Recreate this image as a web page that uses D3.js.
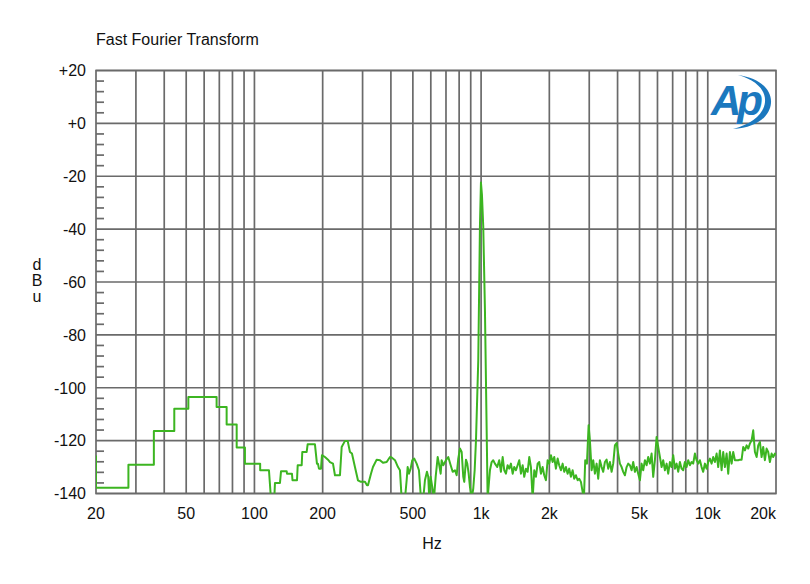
<!DOCTYPE html>
<html>
<head>
<meta charset="utf-8">
<script src="https://cdn.jsdelivr.net/npm/d3@7/dist/d3.min.js"></script>
<style>
  html, body { margin: 0; padding: 0; background: #ffffff; }
  svg { display: block; }
  text { font-family: "Liberation Sans", Arial, sans-serif; fill: #111; }
</style>
</head>
<body>
<svg id="chart" width="810" height="584"></svg>
<script>
// ---------- DATA ----------
const chartTitle = "Fast Fourier Transform";
const xLabel = "Hz";
const yLabelLetters = ["d", "B", "u"];

const xTickValues = [20, 50, 100, 200, 500, 1000, 2000, 5000, 10000, 20000];
const xTickLabels = ["20", "50", "100", "200", "500", "1k", "2k", "5k", "10k", "20k"];
const xGridValues = [30, 40, 50, 60, 70, 80, 90, 100, 200, 300, 400, 500, 600, 700, 800, 900,
                     1000, 2000, 3000, 4000, 5000, 6000, 7000, 8000, 9000, 10000];
const yTickValues = [20, 0, -20, -40, -60, -80, -100, -120, -140];
const yTickLabels = ["+20", "+0", "-20", "-40", "-60", "-80", "-100", "-120", "-140"];
const yMinorValues = [16, 12, 8, 4, -4, -8, -12, -16, -24, -28, -32, -36, -44, -48, -52, -56,
                      -64, -68, -72, -76, -84, -88, -92, -96, -104, -108, -112, -116,
                      -124, -128, -132, -136];

const traceHz = [
  20, 20, 27.8, 27.8, 36, 36, 44.3, 44.3, 51.1, 51.1, 68.1, 68.1, 75.4, 75.4, 83.5, 83.5,
  90.8, 90.8, 106, 106, 115.9, 118.3, 122.3, 123.2, 129.6, 131, 138.8, 139.2, 146.4, 147.2,
  154.1, 155.2, 161.6, 162.6, 170, 171.7, 184.9, 188.7, 190.6, 192.6, 196.6, 198.6, 204.7,
  211.1, 215.4, 222.1, 226.6, 238.4, 242.6, 250.9, 257.8, 263.9, 269.3, 277.6, 286.2, 295.1,
  307.4, 313.7, 316.9, 326.7, 333.4, 346.2, 358, 369.1, 383.2, 396.3, 403.2, 416.9, 429.8,
  438.5, 446.2, 461.4, 469.4, 474.2, 480.5, 488.9, 496.9, 507.1, 519.6, 531.9, 542.8, 555.6,
  565.3, 576.9, 584.6, 590.6, 599, 608.9, 619.5, 630.3, 643.3, 651.8, 663.1, 669.9, 680.9,
  699.9, 716.4, 734.1, 749.2, 766.9, 780.2, 793, 806.8, 820.9, 834.3, 842.8, 857.5, 868.9,
  881.3, 893.1, 908.6, 923.5, 936.7, 949.2, 971.6, 988.3, 998.4, 1008.6, 1022, 1039.8, 1068.7,
  1094, 1113, 1131, 1151, 1178, 1202, 1223, 1245, 1265, 1287, 1309, 1331, 1354, 1378, 1400,
  1425, 1449, 1473, 1499, 1525, 1550, 1577, 1604, 1631, 1659, 1688, 1716, 1745, 1776, 1805,
  1836, 1868, 1899, 1932, 1966, 1998, 2033, 2068, 2102, 2138, 2176, 2211, 2250, 2289, 2327,
  2367, 2408, 2448, 2490, 2534, 2575, 2620, 2666, 2709, 2757, 2805, 2842, 2880, 2930, 2981,
  3020, 3073, 3123, 3178, 3233, 3286, 3343, 3402, 3457, 3518, 3579, 3637, 3701, 3765, 3827,
  3894, 3961, 4026, 4096, 4168, 4236, 4310, 4385, 4457, 4534, 4613, 4689, 4771, 4854, 4933,
  5019, 5107, 5190, 5281, 5373, 5461, 5556, 5652, 5745, 5845, 5947, 6044, 6150, 6257, 6359,
  6470, 6583, 6691, 6807, 6926, 7039, 7162, 7286, 7406, 7535, 7666, 7791, 7927, 8065, 8197,
  8340, 8485, 8624, 8775, 8927, 9074, 9232, 9392, 9546, 9713, 9882, 10045, 10220, 10398,
  10568, 10752, 10940, 11119, 11313, 11510, 11699, 11903, 12110, 12309, 12523, 12742, 12950,
  13176, 13406, 13626, 13863, 14105, 14336, 14586, 14840, 15083, 15346, 15613, 15869, 16145,
  16427, 16696, 16982, 17278, 17561, 17867, 18178, 18476, 18798, 19126, 19439, 19778, 20000
];
const traceDbu = [
  -125.6, -137.8, -137.8, -129.1, -129.1, -116.4, -116.4, -107.9, -107.9, -103.5, -103.5,
  -107.3, -107.3, -113.9, -113.9, -122.6, -122.6, -128.7, -128.7, -131.2, -131.2, -142, -142,
  -136, -136, -131.6, -131.6, -132.5, -132.5, -135, -135, -129.3, -129.3, -124.3, -124.3,
  -121.4, -121.4, -128.7, -128.7, -130.6, -130.6, -125.5, -126.2, -127.2, -128.1, -128.7,
  -133.1, -133.1, -122.4, -120.1, -120.1, -124.3, -124.9, -130, -135, -135.6, -135.6, -136.9,
  -136.9, -132.5, -130, -127.2, -127.4, -128.4, -128.1, -126.2, -126.4, -127.4, -130, -131.2,
  -142, -142, -135, -130, -132.5, -130.6, -127.4, -126.8, -128.7, -131.2, -142, -142, -135,
  -131.8, -133.7, -142, -133.7, -137.5, -142, -133.7, -126.2, -128.7, -132.5, -127.4, -129.3,
  -127.4, -126.2, -129.3, -131.8, -131.2, -133.1, -126.8, -123, -124.3, -133.7, -135.6,
  -127.2, -128.7, -132.5, -137.5, -142, -138.1, -131.2, -120, -89.6, -39, -22.4, -27, -39,
  -70.6, -142,
  -131.2, -128.1, -127.4, -128.7, -130, -127.4, -131.8, -126.2, -131.2, -132.5, -129.3,
  -130.6, -128.7, -132.5, -130, -131.2, -129.3, -127.4, -132.5, -129.3, -133.7, -130.6,
  -131.8, -126.2, -130, -142, -131.2, -133.7, -128.7, -128.1, -132.5, -130, -133.1, -135,
  -127.4, -128.7, -125.5, -128.1, -126.2, -130.6, -126.8, -129.3, -131.2, -128.7, -131.8,
  -130, -132.5, -130.6, -133.7, -131.2, -134.4, -133.1, -135, -134.4, -135.6, -139.4, -142,
  -127.4, -128.7, -114.2,
  -119.9, -131.2, -127.4, -132.5, -128.7, -134.4, -127.4, -130, -131.8, -128.1, -127.2,
  -130.6, -128.1, -131.8, -128.7,
  -121.8, -120.9, -124.9, -128.7, -130, -131.8, -133.1, -130, -128.7, -129.3, -131.2,
  -128.1, -131.8, -130, -132.5,
  -135, -128.7, -131.2, -127.4, -129.3, -126.2, -128.7, -124.9, -133.7, -127.4, -118.6,
  -122.4, -126.2, -130, -127.4,
  -131.2, -128.7, -132.5, -128.1, -130, -125.5, -130.6, -128.7, -131.8, -128.1, -130.6,
  -131.2, -128.1, -130, -127.4,
  -129.3, -128.1, -128.7, -124.9, -127.4, -128.7, -127.4, -130, -131.8, -128.7, -130.6,
  -128.1, -126.8, -128.7,
  -126.2, -128.1, -124.9, -130, -123.7, -131.2, -124.3, -130, -124.9, -132.5, -124.3,
  -128.7, -124.3,
  -127.4, -127.4, -127.4, -127.2, -127.2, -122.4, -123.7, -121.8, -123, -121.1, -119.9,
  -116.1, -124.3,
  -126.2, -121.8, -120.5, -126.2, -122.4, -127.4, -123, -124.3, -128.1, -124.9, -126.2,
  -124.9, -125.5
];

// ---------- LAYOUT ----------
const svg = d3.select("#chart");
const plot = { left: 96, right: 776, top: 70.5, bottom: 493.5 };
const gridColor = "#6a6a6a";
const traceColor = "#3cb521";
const fontSize = 16;

const x = d3.scaleLog().domain([20, 20000]).range([plot.left, plot.right]);
const y = d3.scaleLinear().domain([-140, 20]).range([plot.bottom, plot.top]);

// title
svg.append("text").attr("x", 96).attr("y", 45)
  .attr("font-size", fontSize).text(chartTitle);

// clip
svg.append("defs").append("clipPath").attr("id", "plotclip")
  .append("rect").attr("x", plot.left).attr("y", plot.top)
  .attr("width", plot.right - plot.left).attr("height", plot.bottom - plot.top);

// vertical grid
svg.append("g").selectAll("line").data(xGridValues).join("line")
  .attr("x1", d => x(d)).attr("x2", d => x(d))
  .attr("y1", plot.top).attr("y2", plot.bottom)
  .attr("stroke", gridColor).attr("stroke-width", 1.7);

// horizontal grid
svg.append("g").selectAll("line").data(yTickValues).join("line")
  .attr("x1", plot.left).attr("x2", plot.right)
  .attr("y1", d => y(d)).attr("y2", d => y(d))
  .attr("stroke", gridColor).attr("stroke-width", 1.7);

// minor ticks on left
svg.append("g").selectAll("line").data(yMinorValues).join("line")
  .attr("x1", plot.left).attr("x2", plot.left + 8)
  .attr("y1", d => y(d)).attr("y2", d => y(d))
  .attr("stroke", gridColor).attr("stroke-width", 1.7);

// border
svg.append("rect").attr("x", plot.left).attr("y", plot.top)
  .attr("width", plot.right - plot.left).attr("height", plot.bottom - plot.top)
  .attr("fill", "none").attr("stroke", gridColor).attr("stroke-width", 1.7);

// y labels
svg.append("g").selectAll("text").data(yTickValues).join("text")
  .attr("x", 86).attr("y", d => y(d)).attr("dy", "0.36em")
  .attr("text-anchor", "end").attr("font-size", fontSize)
  .text((d, i) => yTickLabels[i]);

// x labels
svg.append("g").selectAll("text").data(xTickValues).join("text")
  .attr("x", d => x(d)).attr("y", 519)
  .attr("text-anchor", (d, i) => i === xTickValues.length - 1 ? "end" : "middle")
  .attr("font-size", fontSize)
  .text((d, i) => xTickLabels[i]);

// axis titles
svg.append("text").attr("x", 432).attr("y", 549).attr("text-anchor", "middle")
  .attr("font-size", fontSize).text(xLabel);
svg.append("g").selectAll("text").data(yLabelLetters).join("text")
  .attr("x", 37).attr("y", (d, i) => 270 + i * 16).attr("text-anchor", "middle")
  .attr("font-size", fontSize).text(d => d);

// trace
const pts = traceHz.map((f, i) => [f, traceDbu[i]]);
const line = d3.line().x(d => x(d[0])).y(d => y(d[1]));
svg.append("path").datum(pts)
  .attr("clip-path", "url(#plotclip)")
  .attr("d", line)
  .attr("fill", "none").attr("stroke", traceColor)
  .attr("stroke-width", 2).attr("stroke-linejoin", "round");

// AP logo
const logo = svg.append("g").attr("fill", "#1b78be");
logo.append("path")
  .attr("d", "M738,75 C760,78 772,90 771,103 C770,116 757,128 733,129 C752,124 764,114 765,102 C766,90 756,80 738,75 Z");
logo.append("text").attr("x", 711).attr("y", 115)
  .attr("font-size", 42).attr("font-style", "italic").attr("font-weight", "bold")
  .attr("letter-spacing", -4)
  .style("fill", "#1b78be").text("Ap");
</script>
</body>
</html>
